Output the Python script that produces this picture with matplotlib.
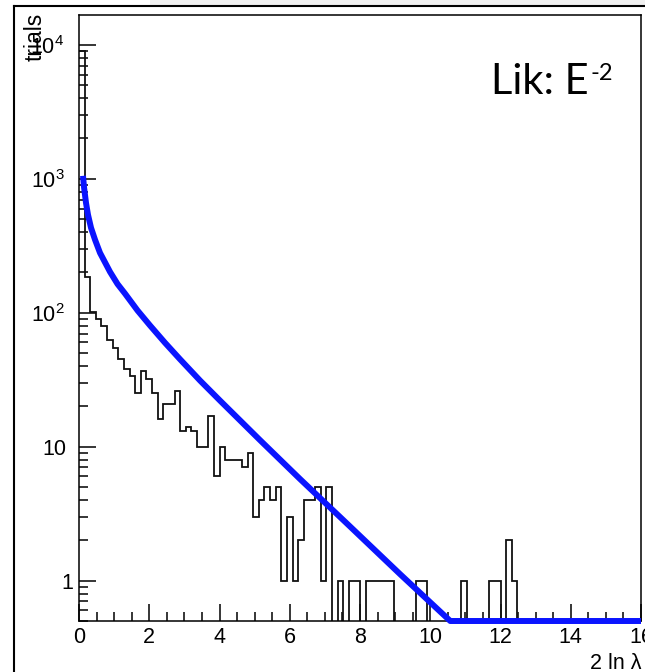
import numpy as np
import matplotlib
matplotlib.use('Agg')
import matplotlib.pyplot as plt
from matplotlib.ticker import FixedLocator, NullFormatter, LogLocator, MultipleLocator
from matplotlib.lines import Line2D
from matplotlib.patches import Rectangle
from matplotlib.transforms import ScaledTranslation

# ---------------- data ----------------
x_range = (0.0, 16.0)
n_bins = 100
hist_counts = [9000, 186, 101, 90, 80, 63, 55, 45, 38, 34,
               25, 37, 32, 25, 16, 21, 21, 26, 13, 14,
               13, 10, 10, 17, 6, 10, 8, 8, 8, 7,
               9, 3, 4, 5, 4, 5, 1, 3, 1, 2,
               4, 4, 5, 1, 5, 0, 1, 0, 1, 1,
               0, 1, 1, 1, 1, 1, 0, 0, 0, 0,
               1, 1, 0, 0, 0, 0, 0, 0, 1, 0,
               0, 0, 0, 1, 1, 0, 2, 1, 0, 0,
               0, 0, 0, 0, 0, 0, 0, 0, 0, 0,
               0, 0, 0, 0, 0, 0, 0, 0, 0, 0]

fit_x = [0.114, 0.142, 0.199, 0.256, 0.342, 0.456, 0.598, 0.883, 1.096, 1.31,
         1.666, 2.021, 2.448, 2.875, 3.445, 4.014, 5.153, 6.292, 7.715, 9.139,
         10.57, 16.0]
fit_y = [1052, 871, 662, 539, 431, 351, 280, 202, 164, 139,
         104, 80.4, 59.7, 45.0, 31.2, 22.1, 11.2, 5.74, 2.54, 1.12,
         0.5, 0.5]

y_ticks = [1, 10, 100, 1000, 10000]
y_tick_labels = ['1', '10', r'$\mathregular{10^{2}}$', r'$\mathregular{10^{3}}$', r'$\mathregular{10^{4}}$']
x_ticks = [0, 2, 4, 6, 8, 10, 12, 14, 16]
x_tick_labels = ['0', '2', '4', '6', '8', '10', '12', '14', '16']

# ---------------- style ----------------
plt.rcParams['font.family'] = ['Liberation Sans', 'DejaVu Sans']
plt.rcParams['mathtext.fontset'] = 'custom'
plt.rcParams['mathtext.rm'] = 'Liberation Sans'
plt.rcParams['mathtext.it'] = 'Liberation Sans:italic'
plt.rcParams['mathtext.bf'] = 'Liberation Sans:bold'

W, H = 645, 672
fig = plt.figure(figsize=(W / 100, H / 100), dpi=100)
fig.patch.set_facecolor('white')

def fx(px):
    return px / W

def fy(py):
    return 1 - py / H

# outer decoration (slide frame)
fig.add_artist(Rectangle((fx(150), fy(5)), 1 - fx(150), 5 / H, transform=fig.transFigure,
                         facecolor='#f0f0f0', edgecolor='none'))
fig.add_artist(Line2D([fx(14), 1], [fy(6), fy(6)], transform=fig.transFigure, color='black', lw=1.5))
fig.add_artist(Line2D([fx(14), fx(14)], [fy(6), 0], transform=fig.transFigure, color='black', lw=1.5))

ax = fig.add_axes([fx(79), fy(621), fx(641) - fx(79), fy(15) - fy(621)])
ax.set_yscale('log')
ax.set_xlim(*x_range)
ax.set_ylim(0.5, 1.67e4)

edges = np.linspace(x_range[0], x_range[1], n_bins + 1)
counts = np.array(hist_counts, dtype=float)
counts_plot = np.where(counts > 0, counts, 1e-3)
ax.stairs(counts_plot, edges, baseline=None, color='#111111', lw=1.3, zorder=2)

ax.plot(fit_x, fit_y, color='#0a14ff', lw=4.3, solid_capstyle='butt', solid_joinstyle='round',
        zorder=3, clip_on=False)

# ticks
ax.xaxis.set_major_locator(FixedLocator(x_ticks))
ax.set_xticklabels(x_tick_labels)
ax.xaxis.set_minor_locator(MultipleLocator(0.5))
ax.yaxis.set_major_locator(FixedLocator(y_ticks))
ax.set_yticklabels(y_tick_labels)
ax.yaxis.set_minor_locator(LogLocator(base=10, subs=np.arange(2, 10)))
ax.yaxis.set_minor_formatter(NullFormatter())

ax.tick_params(axis='both', which='major', direction='in', length=12.5, width=1.1,
               labelsize=15.5, top=False, right=False)
ax.tick_params(axis='both', which='minor', direction='in', length=6.5, width=1.1,
               top=False, right=False)
ax.tick_params(axis='x', which='major', pad=4)
ax.tick_params(axis='y', which='major', pad=4)

for sp in ax.spines.values():
    sp.set_linewidth(1.1)
    sp.set_color('black')

# shift some y tick labels as in the original
shifts = {'10': -7, r'$\mathregular{10^{2}}$': -9, r'$\mathregular{10^{3}}$': -9,
          r'$\mathregular{10^{4}}$': -9}
for lbl in ax.get_yticklabels():
    s = shifts.get(lbl.get_text(), 0)
    if s:
        lbl.set_transform(lbl.get_transform() + ScaledTranslation(s / 100, 0, fig.dpi_scale_trans))

# axis titles
ax.set_xlabel('2 ln λ', fontsize=15.5, ha='right')
ax.xaxis.set_label_coords(1.0, -0.052)
ax.set_ylabel('trials', fontsize=16.5, ha='right')
ax.yaxis.set_label_coords(-0.057, 1.003)

# annotation
fig.text(fx(589), fy(94), 'Lik: E', fontsize=30, family=['Lato', 'DejaVu Sans'],
         ha='right', va='baseline')
fig.text(fx(590), fy(80), '-2', fontsize=17, family=['Lato', 'DejaVu Sans'],
         ha='left', va='baseline')

fig.savefig('out.png', dpi=100)
